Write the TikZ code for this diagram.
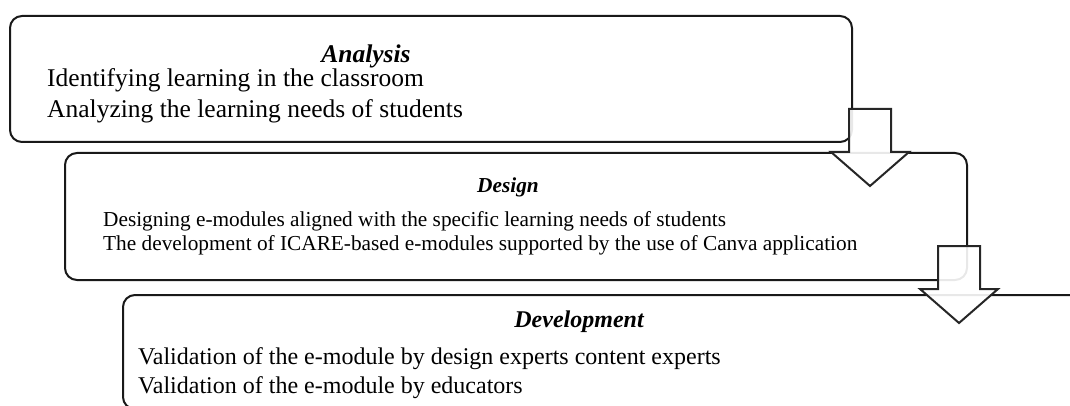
\documentclass[tikz,border=0pt]{standalone}
\usepackage{fontspec}
\setmainfont{Liberation Serif}
\usepackage{tikz}
\usetikzlibrary{positioning}
\tikzset{>=stealth}
\tikzset{
  phase/.style={draw=black!90, line width=2pt, rounded corners=12pt},
  blockarrow/.style={draw=black!85, line width=2pt, fill=white, fill opacity=0.9},
  item/.style={anchor=base west, inner sep=0pt},
  head/.style={anchor=base, inner sep=0pt, font=\bfseries\itshape},
}
% block arrow pointing down, #1 = centre x, #2 = top of the shaft
\newcommand{\downblock}[2]{%
  \filldraw[blockarrow] (#1-21,#2) -- (#1+21,#2) -- (#1+21,#2+43) -- (#1+39,#2+43)
    -- (#1,#2+77) -- (#1-39,#2+43) -- (#1-21,#2+43) -- cycle;}

\begin{document}
\begin{tikzpicture}[x=1pt,y=-1pt]
      \useasboundingbox (0,0) rectangle (1070,406);
      \clip (0,0) rectangle (1070,406);
      % the three phases
      \draw[phase] (10,16) rectangle (852,142);
      \draw[phase] (65,153) rectangle (967,280);
      \draw[phase] (123,295) rectangle (1090,409);
      % analysis
      \node[head, font=\fontsize{25.5}{30}\selectfont\bfseries\itshape] (analysis) at (366,63) {Analysis};
      \node[item, font=\fontsize{25.5}{30}\selectfont] (an1) at (47,87) {Identifying learning in the classroom};
      \node[item, font=\fontsize{25.5}{30}\selectfont] (an2) at (47,118) {Analyzing the learning needs of students};
      % design
      \node[head, font=\fontsize{21.3}{25}\selectfont\bfseries\itshape] (design) at (508,193) {Design};
      \node[item, font=\fontsize{21.3}{25}\selectfont] (de1) at (103,226) {Designing e-modules aligned with the specific learning needs of students};
      \node[item, font=\fontsize{21.3}{25}\selectfont] (de2) at (103,250) {The development of ICARE-based e-modules supported by the use of Canva application};
      % development
      \node[head, font=\fontsize{24}{28}\selectfont\bfseries\itshape] (development) at (579,327) {Development};
      \node[item, font=\fontsize{24}{28}\selectfont] (dv1) at (138,364) {Validation of the e-module by design experts content experts};
      \node[item, font=\fontsize{24}{28}\selectfont] (dv2) at (138,393) {Validation of the e-module by educators};
      % arrows between the phases
      \downblock{870}{109}
      \downblock{959}{246}
    \end{tikzpicture}
\end{document}
